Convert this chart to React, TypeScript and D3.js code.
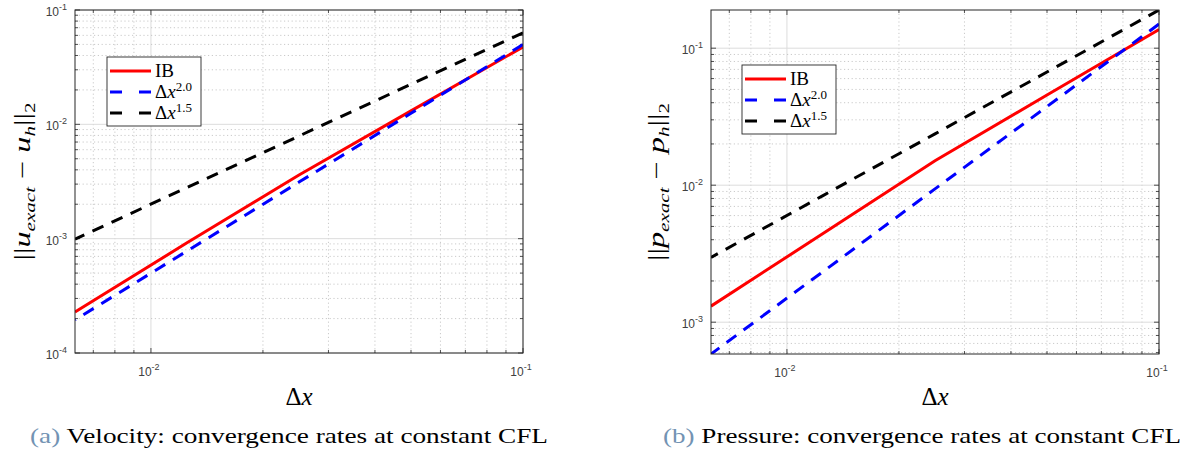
import React from "react";
import * as d3 from "d3";

const W = 1182;
const H = 450;

// grid spacing (same for both panels)
const dx = [0.1, 0.05, 0.025, 0.0125, 0.00625];

// velocity errors
const velIB = [0.0475, 0.0131, 0.0036, 0.00092, 0.000228];
const velRate2 = [0.05, 0.0125, 0.003125, 0.00078, 0.000195];
const velRate15 = [0.0632, 0.0224, 0.0079, 0.0028, 0.00099];

// pressure errors
const presIB = [0.137, 0.0455, 0.0151, 0.00444, 0.00131];
const presRate2 = [0.15, 0.0375, 0.0094, 0.00234, 0.000586];
const presRate15 = [0.19, 0.067, 0.0237, 0.0084, 0.00297];

const legendNames = ["IB", "2.0", "1.5"];
const lineColors = ["#ff0000", "#0000ff", "#000000"];
const dashes = [null, "12,9", "12,9"];

const axisColor = "#262626";
const tickFont = "'Liberation Sans', Arial, sans-serif";
const serif = "'Liberation Serif', 'Times New Roman', serif";

type PanelProps = {
  id: string;
  x0: number;
  x1: number;
  y0: number;
  y1: number;
  yDomain: [number, number];
  series: number[][];
  v: string;
  legend: { x: number; y: number };
  yLabelX: number;
  letter: string;
  caption: string;
  captionX: number;
};

function logTicks(domain: number[]) {
  const lo = Math.floor(Math.log10(domain[0]) + 1e-9);
  const hi = Math.ceil(Math.log10(domain[1]) - 1e-9);
  const out: { v: number; major: boolean; p: number }[] = [];
  for (let p = lo; p <= hi; p++) {
    for (let k = 1; k <= 9; k++) {
      const v = k * Math.pow(10, p);
      if (v >= domain[0] * 0.9999 && v <= domain[1] * 1.0001) out.push({ v, major: k === 1, p });
    }
  }
  return out;
}

const Panel = (props: PanelProps) => {
  const { x0, x1, y0, y1, series, v, legend } = props;
  const x = d3.scaleLog().domain([0.00625, 0.1]).range([x0, x1]);
  const y = d3.scaleLog().domain(props.yDomain).range([y1, y0]);
  const xt = logTicks(x.domain());
  const yt = logTicks(y.domain());
  const line = d3
    .line<number>()
    .x((_, i) => x(dx[i]))
    .y((d) => y(d));

  const lh = 21;
  return (
    <g>
      <defs>
        <clipPath id={"clip" + props.id}>
          <rect x={x0} y={y0} width={x1 - x0} height={y1 - y0} />
        </clipPath>
      </defs>
      <rect x={x0} y={y0} width={x1 - x0} height={y1 - y0} fill="#fff" />
      {/* grid */}
      {xt.map((t, i) => (
        <line
          key={"gx" + i}
          x1={x(t.v)}
          x2={x(t.v)}
          y1={y0}
          y2={y1}
          stroke={t.major ? "#dcdcdc" : "#bcbcbc"}
          strokeWidth={t.major ? 1 : 0.8}
          strokeDasharray={t.major ? undefined : "1.2,2.6"}
        />
      ))}
      {yt.map((t, i) => (
        <line
          key={"gy" + i}
          x1={x0}
          x2={x1}
          y1={y(t.v)}
          y2={y(t.v)}
          stroke={t.major ? "#dcdcdc" : "#bcbcbc"}
          strokeWidth={t.major ? 1 : 0.8}
          strokeDasharray={t.major ? undefined : "1.2,2.6"}
        />
      ))}
      {/* ticks */}
      {xt.map((t, i) => {
        const L = t.major ? 5 : 3;
        return (
          <g key={"tx" + i} stroke={axisColor} strokeWidth={0.8}>
            <line x1={x(t.v)} x2={x(t.v)} y1={y1} y2={y1 - L} />
            <line x1={x(t.v)} x2={x(t.v)} y1={y0} y2={y0 + L} />
          </g>
        );
      })}
      {yt.map((t, i) => {
        const L = t.major ? 5 : 3;
        return (
          <g key={"ty" + i} stroke={axisColor} strokeWidth={0.8}>
            <line x1={x0} x2={x0 + L} y1={y(t.v)} y2={y(t.v)} />
            <line x1={x1} x2={x1 - L} y1={y(t.v)} y2={y(t.v)} />
          </g>
        );
      })}
      {/* data */}
      <g clipPath={`url(#clip${props.id})`}>
        {series.map((s, i) => (
          <path
            key={"s" + i}
            d={line(s) || ""}
            fill="none"
            stroke={lineColors[i]}
            strokeWidth={3}
            strokeDasharray={dashes[i] || undefined}
          />
        ))}
      </g>
      <rect x={x0} y={y0} width={x1 - x0} height={y1 - y0} fill="none" stroke={axisColor} strokeWidth={1} />
      {/* tick labels */}
      {yt
        .filter((t) => t.major)
        .map((t, i) => (
          <text key={"ly" + i} x={x0 - 8} y={y(t.v) + 6} textAnchor="end" fontFamily={tickFont} fontSize={12} fill="#404040">
            <tspan>10</tspan>
            <tspan dy={-6} fontSize={9}>{String(t.p)}</tspan>
          </text>
        ))}
      {xt
        .filter((t) => t.major)
        .map((t, i) => (
          <text key={"lx" + i} x={x(t.v) - 2} y={y1 + 23} textAnchor="middle" fontFamily={tickFont} fontSize={12} fill="#404040">
            <tspan>10</tspan>
            <tspan dy={-6} fontSize={9}>{String(t.p)}</tspan>
          </text>
        ))}
      {/* legend */}
      <rect x={legend.x} y={legend.y} width={94} height={69} fill="#fff" stroke={axisColor} strokeWidth={0.9} />
      {legendNames.map((n, i) => {
        const cy = legend.y + 14 + i * lh;
        return (
          <g key={"lg" + i}>
            <line
              x1={legend.x + 3}
              x2={legend.x + 44}
              y1={cy}
              y2={cy}
              stroke={lineColors[i]}
              strokeWidth={3}
              strokeDasharray={dashes[i] ? "12,17" : undefined}
            />
            {i === 0 ? (
              <text x={legend.x + 48} y={cy + 6} fontFamily={serif} fontSize={19} fill="#000">
                IB
              </text>
            ) : (
              <text x={legend.x + 48} y={cy + 6} fontFamily={serif} fontSize={19} fill="#000">
                <tspan>Δ</tspan>
                <tspan fontStyle="italic">x</tspan>
                <tspan dy={-7} fontSize={13}>{n}</tspan>
              </text>
            )}
          </g>
        );
      })}
      {/* axis labels */}
      <text x={(x0 + x1) / 2} y={405} textAnchor="middle" fontFamily={serif} fontSize={25} fill="#000">
        <tspan>Δ</tspan>
        <tspan fontStyle="italic">x</tspan>
      </text>
      <text
        transform={`translate(${props.yLabelX},${(y0 + y1) / 2}) rotate(-90)`}
        textAnchor="middle"
        fontFamily={serif}
        fontSize={23}
        fill="#000"
        textLength={158}
        lengthAdjust="spacingAndGlyphs"
      >
        <tspan>||</tspan>
        <tspan fontStyle="italic">{v}</tspan>
        <tspan fontStyle="italic" fontSize={15} dy={5}>exact</tspan>
        <tspan dy={-5}> − </tspan>
        <tspan fontStyle="italic">{v}</tspan>
        <tspan fontStyle="italic" fontSize={15} dy={5}>h</tspan>
        <tspan dy={-5}>||</tspan>
        <tspan fontSize={15} dy={5}>2</tspan>
      </text>
      {/* caption */}
      <text
        x={props.captionX}
        y={443}
        fontFamily={serif}
        fontSize={21}
        fill="#000"
        textLength={518}
        lengthAdjust="spacingAndGlyphs"
      >
        <tspan fill="#7393b3">({props.letter})</tspan>
        <tspan> {props.caption}</tspan>
      </text>
    </g>
  );
};

export default function App() {
  const presExtent = d3.extent([...presIB, ...presRate2, ...presRate15]) as [number, number];
  return (
    <svg width={W} height={H} style={{ position: "absolute", left: 0, top: 0, background: "#fff" }}>
      <rect width={W} height={H} fill="#fff" />
      <Panel
        id="a"
        x0={75}
        x1={523}
        y0={10}
        y1={353}
        yDomain={[1e-4, 1e-1]}
        series={[velIB, velRate2, velRate15]}
        v="u"
        legend={{ x: 107, y: 57 }}
        yLabelX={30}
        letter="a"
        caption="Velocity: convergence rates at constant CFL"
        captionX={30}
      />
      <Panel
        id="b"
        x0={711}
        x1={1159}
        y0={10}
        y1={354}
        yDomain={presExtent}
        series={[presIB, presRate2, presRate15]}
        v="p"
        legend={{ x: 742, y: 65 }}
        yLabelX={664}
        letter="b"
        caption="Pressure: convergence rates at constant CFL"
        captionX={663}
      />
    </svg>
  );
}
